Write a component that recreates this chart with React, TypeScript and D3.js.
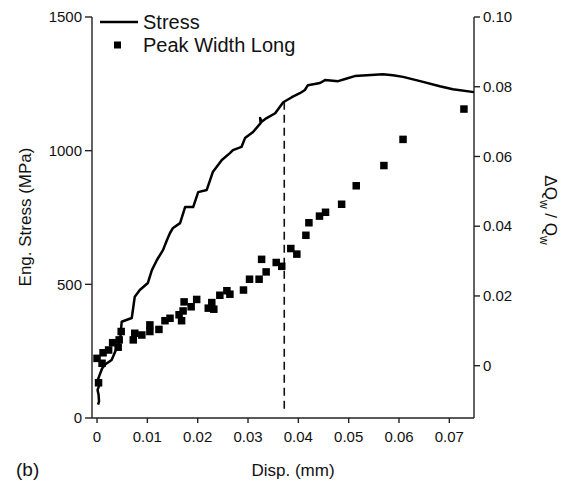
import React from "react";
import * as d3 from "d3";

const stressDisp = [0.0002,0.0004,0.0003,0.0001,0.0005,0.0002,0.0006,0.001,0.0016,0.0029,0.0046,0.0049,0.0069,0.0075,0.0085,0.0101,0.0109,0.0119,0.0131,0.0139,0.0145,0.0151,0.0165,0.0175,0.0191,0.0201,0.0218,0.023,0.0248,0.0264,0.027,0.0287,0.0294,0.031,0.0325,0.0324,0.0327,0.0337,0.0354,0.037,0.0387,0.0403,0.0413,0.0419,0.0443,0.0453,0.0479,0.0493,0.0512,0.0536,0.0568,0.0588,0.0608,0.0642,0.0681,0.0707,0.0749];
const stressVal = [50,62,88,105,125,145,165,185,200,217,292,360,374,454,479,505,553,591,628,666,692,711,729,789,789,845,853,920,965,991,1002,1014,1047,1070,1103,1122,1108,1122,1140,1181,1200,1215,1227,1245,1253,1264,1260,1268,1279,1282,1286,1282,1276,1260,1241,1230,1219];

const widthDisp = [0.0,0.0003,0.001,0.0012,0.0023,0.0031,0.0042,0.0044,0.0048,0.0072,0.0075,0.0089,0.0105,0.0105,0.0123,0.0135,0.0145,0.0163,0.0168,0.0171,0.0173,0.0187,0.0198,0.0221,0.0228,0.0232,0.0244,0.0258,0.0264,0.0291,0.0303,0.0322,0.0327,0.0336,0.0356,0.0367,0.0385,0.0397,0.0415,0.0421,0.0442,0.0454,0.0486,0.0515,0.057,0.0608,0.0729];
const widthVal = [0.0021,-0.0049,0.0007,0.0037,0.0045,0.0066,0.0053,0.0074,0.0098,0.0074,0.0093,0.0088,0.0117,0.0098,0.0104,0.0129,0.0136,0.0146,0.0129,0.0157,0.0183,0.0169,0.019,0.0165,0.0181,0.0162,0.0202,0.0215,0.0205,0.0217,0.0248,0.0248,0.0305,0.0269,0.0296,0.0285,0.0336,0.032,0.0374,0.041,0.0429,0.044,0.0463,0.0516,0.0574,0.0649,0.0736];

const xTicks = [0, 0.01, 0.02, 0.03, 0.04, 0.05, 0.06, 0.07];
const xTickLabels = ["0", "0.01", "0.02", "0.03", "0.04", "0.05", "0.06", "0.07"];
const leftTicks = [0, 500, 1000, 1500];
const rightTicks = [0, 0.02, 0.04, 0.06, 0.08, 0.1];
const rightTickLabels = ["0", "0.02", "0.04", "0.06", "0.08", "0.10"];
const markerDisp = 0.0372;
const markerStress = 1183;

const FONT = "'Liberation Sans', Arial, Helvetica, sans-serif";

export default function App() {
  const L = 92, R = 474, T = 17, B = 418;
  const x = d3.scaleLinear().domain([-0.001, 0.0749]).range([L, R]);
  const yL = d3.scaleLinear().domain([0, 1500]).range([B, T]);
  const yR = d3.scaleLinear().domain([-0.015, 0.1]).range([B, T]);

  const line = d3.line<number>()
    .x((_, i) => x(stressDisp[i]))
    .y((d) => yL(d));

  const axisColor = "#222";
  const aw = 1.4;

  return (
    <svg width={574} height={485} style={{ position: "absolute", left: 0, top: 0, background: "#fff" }} fontFamily={FONT}>
      <rect width={574} height={485} fill="#fff" />
      {/* axes lines */}
      <line x1={L} x2={L} y1={T} y2={B} stroke={axisColor} strokeWidth={aw} />
      <line x1={R} x2={R} y1={T} y2={B} stroke={axisColor} strokeWidth={aw} />
      <line x1={L} x2={R} y1={B} y2={B} stroke={axisColor} strokeWidth={aw} />
      {/* left ticks */}
      {leftTicks.map((t) => (
        <g key={"l" + t}>
          <line x1={L - 7} x2={L} y1={yL(t)} y2={yL(t)} stroke={axisColor} strokeWidth={aw} />
          <text x={L - 10} y={yL(t)} dy="0.35em" textAnchor="end" fontSize={15} fill="#111">{t}</text>
        </g>
      ))}
      {/* right ticks */}
      {rightTicks.map((t, i) => (
        <g key={"r" + t}>
          <line x1={R} x2={R + 6} y1={yR(t)} y2={yR(t)} stroke={axisColor} strokeWidth={aw} />
          <text x={R + 9} y={yR(t)} dy="0.35em" textAnchor="start" fontSize={15} fill="#111">{rightTickLabels[i]}</text>
        </g>
      ))}
      {/* bottom ticks */}
      {xTicks.map((t, i) => (
        <g key={"x" + t}>
          <line x1={x(t)} x2={x(t)} y1={B} y2={B + 5} stroke={axisColor} strokeWidth={aw} />
          <text x={x(t)} y={442} textAnchor="middle" fontSize={15} fill="#111">{xTickLabels[i]}</text>
        </g>
      ))}
      {/* dashed marker */}
      <line x1={x(markerDisp)} x2={x(markerDisp)} y1={yL(markerStress)} y2={410} stroke="#111" strokeWidth={1.6} strokeDasharray="8,5" />
      {/* stress line */}
      <path d={line(stressVal) || ""} fill="none" stroke="#000" strokeWidth={2.5} strokeLinejoin="round" />
      {/* peak width squares */}
      {widthVal.map((v, i) => (
        <rect key={"s" + i} x={x(widthDisp[i]) - 3.75} y={yR(v) - 3.75} width={7.5} height={7.5} fill="#000" />
      ))}
      {/* legend */}
      <line x1={100} x2={138} y1={22} y2={22} stroke="#000" strokeWidth={2.5} />
      <text x={143} y={29} fontSize={20} fill="#111">Stress</text>
      <rect x={114} y={41.5} width={7} height={7} fill="#000" />
      <text x={143} y={52} fontSize={20} fill="#111">Peak Width Long</text>
      {/* axis titles */}
      <text transform="translate(31,217) rotate(-90)" textAnchor="middle" fontSize={17} fill="#111">Eng. Stress (MPa)</text>
      <text x={293} y={476} textAnchor="middle" fontSize={17} fill="#111">Disp. (mm)</text>
      <text x={16} y={476} fontSize={19} fill="#111">(b)</text>
      <text transform="translate(545,210) rotate(90)" textAnchor="middle" fontSize={17} fill="#111">
        ΔQ<tspan fontSize={12} dy={5}>w</tspan><tspan dy={-5}> / Q</tspan><tspan fontSize={12} dy={5}>w</tspan>
      </text>
    </svg>
  );
}
